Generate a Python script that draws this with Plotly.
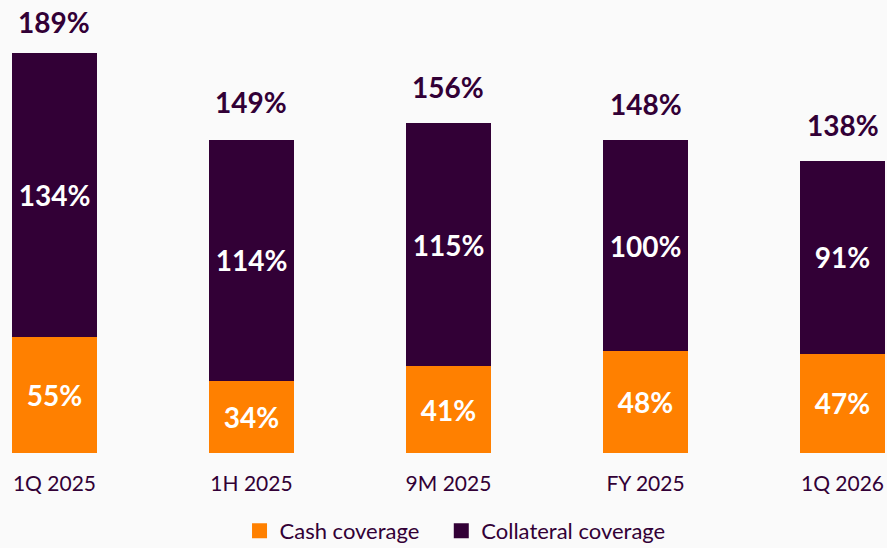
import plotly.graph_objects as go

categories = ["1Q 2025", "1H 2025", "9M 2025", "FY 2025", "1Q 2026"]
cash_coverage = [55, 34, 41, 48, 47]
collateral_coverage = [134, 114, 115, 100, 91]
totals = [189, 149, 156, 148, 138]
series_names = ["Cash coverage", "Collateral coverage"]

ORANGE = "#FF8000"
PURPLE = "#320036"
BG = "#FAFAFA"
FONT = "Lato"

xs = list(range(len(categories)))

fig = go.Figure()
for vals, name, col in [(cash_coverage, series_names[0], ORANGE),
                        (collateral_coverage, series_names[1], PURPLE)]:
    fig.add_trace(go.Bar(
        x=xs, y=vals, name=name, showlegend=False,
        marker=dict(color=col, line=dict(width=0)),
        text=[f"{v}%" for v in vals], textposition="inside",
        insidetextanchor="middle", textangle=0, constraintext="none",
        textfont=dict(color="white", size=28, family=FONT, weight="bold"),
    ))

# legend entries with square swatches (small padding after first entry)
for name, col, pad in [(series_names[0], ORANGE, "\u00a0\u00a0\u00a0"),
                       (series_names[1], PURPLE, "")]:
    fig.add_trace(go.Scatter(x=[None], y=[None], mode="markers", name=name + pad,
                             marker=dict(symbol="square", size=15, color=col)))

for x, t in zip(xs, totals):
    fig.add_annotation(x=x, y=t, text=f"{t}%", showarrow=False,
                       yanchor="bottom", yshift=17 if t != max(totals) else 12,
                       font=dict(color=PURPLE, size=28, family=FONT, weight="bold"))

fig.update_layout(
    barmode="stack", bargap=0.569,
    width=887, height=548,
    margin=dict(l=0, r=0, t=0, b=95, autoexpand=False),
    paper_bgcolor=BG, plot_bgcolor=BG,
    font=dict(family=FONT, color=PURPLE),
    showlegend=True,
    legend=dict(orientation="h", x=0.513, xanchor="center", y=-0.172, yanchor="middle",
                font=dict(size=22, color=PURPLE, family=FONT), traceorder="normal",
                bgcolor="rgba(0,0,0,0)", itemwidth=30),
)
fig.update_xaxes(range=[-0.2766, 4.2259], tickmode="array", tickvals=xs, ticktext=categories,
                 showgrid=False, zeroline=False, showline=False, ticks="",
                 tickfont=dict(size=21, color=PURPLE, family=FONT), ticklabelstandoff=16)
fig.update_yaxes(range=[0, 214.04], visible=False, showgrid=False, zeroline=False)

fig.write_html("out.html", config={"displayModeBar": False},
               post_script="document.body.style.margin='0';document.body.style.background='#FAFAFA';")
